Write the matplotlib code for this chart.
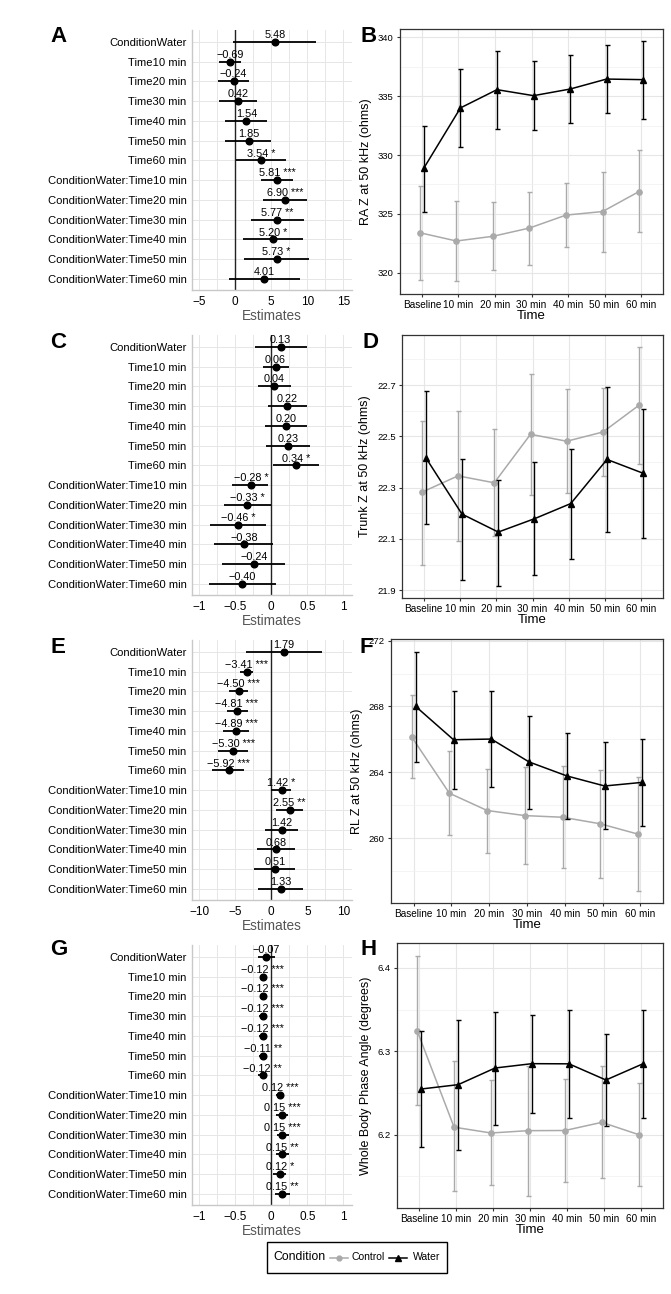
import matplotlib
matplotlib.use("Agg")
import matplotlib.pyplot as plt
from matplotlib.lines import Line2D
from matplotlib.patches import Rectangle
from matplotlib.ticker import MultipleLocator

plt.rcParams['font.family'] = ['Liberation Sans', 'DejaVu Sans']

# model terms, top to bottom
terms = ["ConditionWater", "Time10 min", "Time20 min", "Time30 min", "Time40 min",
         "Time50 min", "Time60 min", "ConditionWater:Time10 min",
         "ConditionWater:Time20 min", "ConditionWater:Time30 min",
         "ConditionWater:Time40 min", "ConditionWater:Time50 min",
         "ConditionWater:Time60 min"]

# A - RA Z estimates
a_est = [5.48, -0.69, -0.24, 0.42, 1.54, 1.85, 3.54, 5.81, 6.90, 5.77, 5.20, 5.73, 4.01]
a_lo = [-0.28, -2.2, -2.44, -2.2, -1.38, -1.38, 0.05, 3.55, 3.82, 2.12, 1.06, 1.15, -0.92]
a_hi = [11.24, 0.83, 1.94, 3.0, 4.47, 5.0, 7.0, 8.06, 9.95, 9.49, 9.4, 10.3, 8.94]
a_stars = ["", "", "", "", "", "", "*", "***", "***", "**", "*", "*", ""]

# C - Trunk Z estimates
c_est = [0.13, 0.06, 0.04, 0.22, 0.20, 0.23, 0.34, -0.28, -0.33, -0.46, -0.38, -0.24, -0.40]
c_lo = [-0.22, -0.12, -0.19, -0.04, -0.09, -0.08, 0.02, -0.54, -0.66, -0.85, -0.79, -0.68, -0.86]
c_hi = [0.49, 0.24, 0.27, 0.49, 0.49, 0.54, 0.66, -0.04, -0.01, -0.08, 0.03, 0.19, 0.06]
c_stars = ["", "", "", "", "", "", "*", "*", "*", "*", "", "", ""]

# E - RL Z estimates
e_est = [1.79, -3.41, -4.50, -4.81, -4.89, -5.30, -5.92, 1.42, 2.55, 1.42, 0.68, 0.51, 1.33]
e_lo = [-3.46, -4.4, -5.85, -6.2, -6.7, -7.4, -8.2, 0.0, 0.65, -0.9, -2.0, -2.44, -1.84]
e_hi = [7.05, -2.5, -3.18, -3.18, -3.1, -3.2, -3.8, 2.67, 4.47, 3.73, 3.3, 3.36, 4.47]
e_stars = ["", "***", "***", "***", "***", "***", "***", "*", "**", "", "", "", ""]

# G - phase angle estimates
g_est = [-0.07, -0.12, -0.12, -0.12, -0.12, -0.11, -0.12, 0.12, 0.15, 0.15, 0.15, 0.12, 0.15]
g_lo = [-0.18, -0.15, -0.15, -0.17, -0.17, -0.17, -0.19, 0.07, 0.07, 0.08, 0.06, 0.02, 0.05]
g_hi = [0.046, -0.09, -0.09, -0.08, -0.07, -0.06, -0.08, 0.16, 0.23, 0.24, 0.25, 0.2, 0.26]
g_stars = ["", "***", "***", "***", "***", "**", "**", "***", "***", "***", "**", "*", "**"]

times = ["Baseline", "10 min", "20 min", "30 min", "40 min", "50 min", "60 min"]

# B - RA Z means and error bar ends
b_ctrl = [323.4, 322.7, 323.1, 323.8, 324.9, 325.2, 326.9]
b_ctrl_lo = [319.4, 319.3, 320.2, 320.7, 322.2, 321.8, 323.5]
b_ctrl_hi = [327.4, 326.1, 326.0, 326.9, 327.6, 328.6, 330.4]
b_water = [328.9, 334.0, 335.55, 335.04, 335.6, 336.45, 336.4]
b_water_lo = [325.2, 330.65, 332.2, 332.1, 332.7, 333.6, 333.1]
b_water_hi = [332.5, 337.3, 338.8, 338.0, 338.5, 339.3, 339.7]

# D - Trunk Z
d_ctrl = [22.282, 22.346, 22.319, 22.508, 22.481, 22.517, 22.622]
d_ctrl_lo = [22.0, 22.093, 22.11, 22.27, 22.28, 22.346, 22.393]
d_ctrl_hi = [22.56, 22.597, 22.53, 22.743, 22.683, 22.688, 22.849]
d_water = [22.417, 22.197, 22.127, 22.179, 22.238, 22.41, 22.356]
d_water_lo = [22.157, 21.939, 21.915, 21.961, 22.022, 22.128, 22.103]
d_water_hi = [22.677, 22.413, 22.33, 22.399, 22.45, 22.694, 22.605]

# F - RL Z
f_ctrl = [266.16, 262.73, 261.68, 261.37, 261.27, 260.87, 260.24]
f_ctrl_lo = [263.68, 260.2, 259.11, 258.42, 258.2, 257.58, 256.77]
f_ctrl_hi = [268.67, 265.3, 264.22, 264.32, 264.36, 264.16, 263.74]
f_water = [268.0, 265.98, 266.02, 264.63, 263.78, 263.17, 263.39]
f_water_lo = [264.6, 262.97, 263.09, 261.76, 261.19, 260.53, 260.73]
f_water_hi = [271.33, 268.97, 268.97, 267.45, 266.36, 265.82, 266.0]

# H - whole body phase angle
h_ctrl = [6.3248, 6.209, 6.202, 6.2048, 6.205, 6.2148, 6.2]
h_ctrl_lo = [6.236, 6.132, 6.1396, 6.126, 6.143, 6.1476, 6.138]
h_ctrl_hi = [6.414, 6.288, 6.2656, 6.283, 6.267, 6.282, 6.2616]
h_water = [6.2548, 6.26, 6.28, 6.2852, 6.285, 6.2656, 6.285]
h_water_lo = [6.185, 6.182, 6.212, 6.226, 6.22, 6.21, 6.22]
h_water_hi = [6.325, 6.338, 6.3476, 6.344, 6.35, 6.3208, 6.35]

W, H = 671, 1294
CTRL_COL = '#AAAAAA'
GRID_COL = '#E6E6E6'


def px_axes(fig, left, right, top, bottom):
    return fig.add_axes([left / W, 1 - bottom / H, (right - left) / W, (bottom - top) / H])


def fmt(v):
    s = "%.2f" % abs(v)
    return ("\u2212" + s) if v < 0 else s


def forest(ax, est, lo, hi, stars, xlim, major, ticks, ticklabels):
    n = len(terms)
    ys = list(range(n, 0, -1))
    ax.set_xlim(*xlim)
    ax.set_ylim(0.44, n + 0.6)
    ax.xaxis.set_major_locator(MultipleLocator(major))
    ax.xaxis.set_minor_locator(MultipleLocator(major / 2))
    ax.set_xticks(ticks)
    ax.set_xticklabels(ticklabels)
    ax.set_yticks(ys)
    ax.set_yticklabels(terms)
    ax.grid(True, which='both', axis='x', color=GRID_COL, lw=0.7)
    ax.grid(True, which='major', axis='y', color=GRID_COL, lw=0.7)
    ax.set_axisbelow(True)
    ax.tick_params(length=0, labelsize=8.1, pad=4, which='both')
    ax.tick_params(axis='x', labelsize=8.5, pad=4)
    for s in ['top', 'right']:
        ax.spines[s].set_visible(False)
    for s in ['left', 'bottom']:
        ax.spines[s].set_color('#C8C8C8')
        ax.spines[s].set_linewidth(1.0)
    ax.axvline(0, color='#222222', lw=1.0, zorder=2)
    ax.hlines(ys, lo, hi, color='black', lw=1.3, zorder=3)
    ax.plot(est, ys, 'o', color='black', ms=4.8, zorder=4)
    for v, y, st in zip(est, ys, stars):
        lab = fmt(v) + (" " + st if st else "")
        ax.annotate(lab, (v, y), xytext=(0, 2.8), textcoords='offset points',
                    ha='center', va='baseline', fontsize=7.8, zorder=5)
    ax.set_xlabel("Estimates", fontsize=9.8, color='#555555', labelpad=1)


def trend(ax, ctrl, ctrl_lo, ctrl_hi, water, water_lo, water_hi, ylim, yticks, yminor, ylabel):
    x = list(range(1, len(times) + 1))
    xc = [i - 0.055 for i in x]
    xw = [i + 0.055 for i in x]
    ax.errorbar(xc, ctrl, yerr=[[c - l for c, l in zip(ctrl, ctrl_lo)],
                                [h - c for c, h in zip(ctrl, ctrl_hi)]],
                color=CTRL_COL, marker='o', ms=3.8, lw=1.1, elinewidth=1.0,
                capsize=1.8, capthick=1.0, zorder=3)
    ax.errorbar(xw, water, yerr=[[c - l for c, l in zip(water, water_lo)],
                                 [h - c for c, h in zip(water, water_hi)]],
                color='black', marker='^', ms=4.2, lw=1.1, elinewidth=1.0,
                capsize=1.8, capthick=1.0, zorder=4)
    ax.set_xlim(0.4, 7.6)
    ax.set_ylim(*ylim)
    ax.set_xticks(x)
    ax.set_xticklabels(times)
    ax.set_yticks(yticks)
    ax.yaxis.set_minor_locator(MultipleLocator(yminor))
    ax.grid(True, which='major', color=GRID_COL, lw=0.8)
    ax.grid(True, which='minor', axis='y', color='#F0F0F0', lw=0.5)
    ax.set_axisbelow(True)
    ax.tick_params(axis='x', labelsize=7.2, length=2.5, color='#333333', pad=2)
    ax.tick_params(axis='y', labelsize=6.8, length=2.5, color='#333333', pad=2)
    ax.tick_params(axis='y', which='minor', length=0)
    for s in ax.spines.values():
        s.set_color('#333333')
        s.set_linewidth(0.9)
    ax.set_xlabel("Time", fontsize=9.5, labelpad=0)
    ax.set_ylabel(ylabel, fontsize=9, labelpad=4)


fig = plt.figure(figsize=(W / 100, H / 100), dpi=100)

ax_a = px_axes(fig, 192, 352, 30, 290)
forest(ax_a, a_est, a_lo, a_hi, a_stars, (-6.0, 16.2), 5, [-5, 0, 5, 10, 15],
       ["\u22125", "0", "5", "10", "15"])
ax_c = px_axes(fig, 192, 352, 335, 595)
forest(ax_c, c_est, c_lo, c_hi, c_stars, (-1.1, 1.12), 0.5, [-1, -0.5, 0, 0.5, 1],
       ["\u22121", "\u22120.5", "0", "0.5", "1"])
ax_e = px_axes(fig, 192, 352, 640, 900)
forest(ax_e, e_est, e_lo, e_hi, e_stars, (-11.0, 11.2), 5, [-10, -5, 0, 5, 10],
       ["\u221210", "\u22125", "0", "5", "10"])
ax_g = px_axes(fig, 192, 352, 945, 1205)
forest(ax_g, g_est, g_lo, g_hi, g_stars, (-1.1, 1.12), 0.5, [-1, -0.5, 0, 0.5, 1],
       ["\u22121", "\u22120.5", "0", "0.5", "1"])

ax_b = px_axes(fig, 400, 663, 29, 294)
trend(ax_b, b_ctrl, b_ctrl_lo, b_ctrl_hi, b_water, b_water_lo, b_water_hi,
      (318.2, 340.7), [320, 325, 330, 335, 340], 2.5, "RA Z at 50 kHz (ohms)")
ax_d = px_axes(fig, 402, 663, 335, 598)
trend(ax_d, d_ctrl, d_ctrl_lo, d_ctrl_hi, d_water, d_water_lo, d_water_hi,
      (21.87, 22.895), [21.9, 22.1, 22.3, 22.5, 22.7], 0.1, "Trunk Z at 50 kHz (ohms)")
ax_d.set_yticklabels(["21.9", "22.1", "22.3", "22.5", "22.7"])
ax_f = px_axes(fig, 391, 663, 639, 903)
trend(ax_f, f_ctrl, f_ctrl_lo, f_ctrl_hi, f_water, f_water_lo, f_water_hi,
      (256.06, 272.1), [260, 264, 268, 272], 2, "RL Z at 50 kHz (ohms)")
ax_h = px_axes(fig, 397, 663, 943, 1208)
trend(ax_h, h_ctrl, h_ctrl_lo, h_ctrl_hi, h_water, h_water_lo, h_water_hi,
      (6.112, 6.43), [6.2, 6.3, 6.4], 0.05, "Whole Body Phase Angle (degrees)")

# panel letters
for letter, xp, yp in [("A", 50, 26), ("B", 361, 26), ("C", 50, 332), ("D", 362, 332),
                       ("E", 50, 637), ("F", 359, 637), ("G", 50, 939), ("H", 361, 939)]:
    fig.text(xp / W, 1 - yp / H, letter, fontsize=16, fontweight='bold',
             ha='left', va='top')

# legend drawn by hand: title on the left, entries to the right
fig.add_artist(Rectangle((267 / W, 1 - 1273 / H), 180 / W, 31 / H, transform=fig.transFigure,
                         fill=False, edgecolor='black', lw=1.0))
ly = 1 - 1257.5 / H
fig.text(273 / W, ly, "Condition", fontsize=8.8, va='center', ha='left')
fig.add_artist(Line2D([330 / W, 348 / W], [ly, ly], transform=fig.transFigure,
                      color=CTRL_COL, lw=1.1))
fig.add_artist(Line2D([339 / W], [ly], transform=fig.transFigure, color=CTRL_COL,
                      marker='o', ms=3.5, lw=0))
fig.text(352 / W, ly, "Control", fontsize=7.5, va='center', ha='left')
fig.add_artist(Line2D([389 / W, 407 / W], [ly, ly], transform=fig.transFigure,
                      color='black', lw=1.1))
fig.add_artist(Line2D([398 / W], [ly], transform=fig.transFigure, color='black',
                      marker='^', ms=4, lw=0))
fig.text(413 / W, ly, "Water", fontsize=7.5, va='center', ha='left')

fig.savefig("out.png", dpi=100)
